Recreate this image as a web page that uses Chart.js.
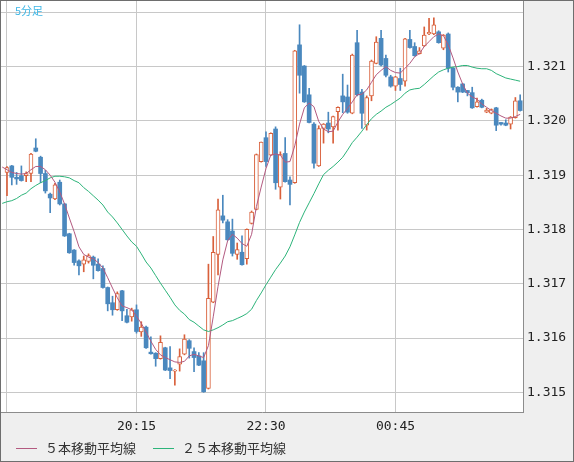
<!DOCTYPE html>
<html><head><meta charset="utf-8">
<script src="https://cdn.jsdelivr.net/npm/chart.js@4.4.1/dist/chart.umd.min.js"></script>
<style>
html,body{margin:0;padding:0;background:#efefef;}
#wrap{position:relative;width:574px;height:462px;overflow:hidden;}
canvas{position:absolute;left:0;top:0;}
.lg{position:absolute;font-size:13px;font-family:"Noto Sans CJK JP";color:#333;white-space:nowrap;line-height:16px;}
.ln{position:absolute;height:1px;}
#tf{position:absolute;left:15px;top:3px;font-size:11px;font-family:"Noto Sans CJK JP";color:#3cb6e6;line-height:14px;}
</style></head><body>
<div id="wrap">
<canvas id="c" width="574" height="462"></canvas>
<div id="tf">5分足</div>
<div class="ln" style="left:16px;top:448px;width:21px;background:#b35a80"></div>
<div class="lg" id="lg1" style="left:45px;top:440px"></div>
<div class="ln" style="left:153px;top:448px;width:21px;background:#2db47a"></div>
<div class="lg" id="lg2" style="left:182px;top:440px"></div>
</div>
<script>
// ---- data (5-minute candles, first candle 18:00) ----
const seriesNames = ['５本移動平均線', '２５本移動平均線'];
const chartTitle = '5分足';
const startHour = 18, startMin = 0, stepMin = 5;

const open = [1.31905,1.31917,1.31896,1.31899,1.31899,1.31903,1.31950,1.31933,1.31903,1.31865,
1.31856,1.31887,1.31847,1.31792,1.31762,1.31742,1.31736,1.31741,1.31749,1.31736,
1.31728,1.31693,1.31665,1.31652,1.31687,1.31641,1.31639,1.31652,1.31611,1.31620,
1.31574,1.31572,1.31562,1.31582,1.31545,1.31539,1.31552,1.31570,1.31595,1.31575,
1.31567,1.31558,1.31507,1.31666,1.31754,1.31825,1.31814,1.31797,1.31754,1.31758,
1.31746,1.31811,1.31837,1.31925,1.31969,1.31937,1.31985,1.31878,1.31940,1.31891,
1.31886,1.32140,1.32101,1.32048,1.31994,1.31917,1.31986,1.31996,1.31989,1.32017,
1.32046,1.32044,1.32014,1.32144,1.32053,1.31992,1.32046,1.32106,1.32152,1.32115,
1.32081,1.32064,1.32078,1.32073,1.32150,1.32137,1.32124,1.32138,1.32160,1.32160,
1.32164,1.32134,1.32160,1.32097,1.32062,1.32068,1.32056,1.32052,1.32026,1.32038,
1.32016,1.32014,1.32024,1.31997,1.31996,1.31994,1.32006,1.32037];

const high = [1.31916,1.31918,1.31905,1.31917,1.31906,1.31940,1.31967,1.31935,1.31909,1.31867,
1.31885,1.31891,1.31848,1.31793,1.31763,1.31744,1.31751,1.31755,1.31751,1.31746,
1.31733,1.31694,1.31677,1.31685,1.31688,1.31653,1.31655,1.31661,1.31630,1.31622,
1.31602,1.31573,1.31604,1.31583,1.31584,1.31542,1.31580,1.31606,1.31597,1.31582,
1.31573,1.31573,1.31736,1.31787,1.31856,1.31863,1.31818,1.31819,1.31775,1.31788,
1.31801,1.31834,1.31939,1.31961,1.31980,1.31978,1.31989,1.31943,1.31969,1.31897,
1.32130,1.32177,1.32102,1.32060,1.31997,1.31991,1.31995,1.32016,1.32009,1.32026,
1.32086,1.32066,1.32123,1.32167,1.32058,1.32046,1.32112,1.32155,1.32167,1.32121,
1.32084,1.32082,1.32097,1.32152,1.32167,1.32144,1.32135,1.32173,1.32189,1.32190,
1.32166,1.32159,1.32162,1.32098,1.32063,1.32069,1.32056,1.32062,1.32042,1.32040,
1.32023,1.32022,1.32025,1.31997,1.32002,1.32008,1.32043,1.32048];

const low = [1.31862,1.31882,1.31883,1.31889,1.31888,1.31888,1.31943,1.31886,1.31867,1.31831,
1.31855,1.31845,1.31787,1.31756,1.31734,1.31716,1.31722,1.31738,1.31709,1.31723,
1.31692,1.31650,1.31642,1.31651,1.31632,1.31628,1.31631,1.31609,1.31603,1.31581,
1.31570,1.31548,1.31561,1.31540,1.31525,1.31513,1.31539,1.31569,1.31563,1.31538,
1.31549,1.31500,1.31506,1.31665,1.31716,1.31812,1.31780,1.31751,1.31745,1.31734,
1.31736,1.31810,1.31836,1.31924,1.31916,1.31936,1.31874,1.31856,1.31887,1.31845,
1.31885,1.32051,1.32034,1.31996,1.31913,1.31916,1.31959,1.31978,1.31959,1.31983,
1.32015,1.32014,1.32013,1.32046,1.31986,1.31983,1.32037,1.32105,1.32101,1.32081,
1.32062,1.32056,1.32056,1.32064,1.32134,1.32119,1.32123,1.32137,1.32159,1.32159,
1.32143,1.32131,1.32090,1.32057,1.32035,1.32052,1.32046,1.32023,1.32025,1.32024,
1.32015,1.32013,1.31982,1.31992,1.31991,1.31985,1.32005,1.32018];

const close = [1.31914,1.31896,1.31893,1.31890,1.31903,1.31939,1.31944,1.31903,1.31871,1.31858,
1.31882,1.31847,1.31788,1.31757,1.31739,1.31733,1.31744,1.31752,1.31734,1.31724,
1.31693,1.31663,1.31652,1.31682,1.31650,1.31629,1.31652,1.31612,1.31620,1.31582,
1.31571,1.31562,1.31592,1.31541,1.31540,1.31541,1.31566,1.31598,1.31581,1.31564,
1.31550,1.31501,1.31673,1.31758,1.31836,1.31817,1.31781,1.31756,1.31763,1.31735,
1.31800,1.31832,1.31938,1.31961,1.31925,1.31977,1.31886,1.31938,1.31888,1.31883,
1.32129,1.32084,1.32035,1.31997,1.31922,1.31986,1.31994,1.31985,1.32008,1.32025,
1.32035,1.32016,1.32121,1.32048,1.32014,1.32043,1.32110,1.32145,1.32103,1.32084,
1.32064,1.32081,1.32067,1.32151,1.32135,1.32120,1.32129,1.32158,1.32163,1.32177,
1.32144,1.32158,1.32097,1.32062,1.32053,1.32053,1.32052,1.32024,1.32035,1.32025,
1.32020,1.32021,1.31992,1.31994,1.31992,1.32007,1.32037,1.32019];

// moving averages; first value belongs to the bar before 18:00 (17:55)
const ma5 = [1.31915,
1.31910,1.31905,1.31903,1.31902,1.31903,1.31910,1.31916,1.31916,1.31910,1.31900,
1.31887,1.31869,1.31847,1.31821,1.31796,1.31768,1.31754,1.31749,1.31746,1.31739,
1.31729,1.31711,1.31692,1.31674,1.31659,1.31656,1.31652,1.31640,1.31627,1.31611,
1.31594,1.31579,1.31569,1.31564,1.31560,1.31556,1.31555,1.31557,1.31567,1.31570,
1.31567,1.31564,1.31586,1.31639,1.31695,1.31744,1.31779,1.31791,1.31784,1.31774,
1.31769,1.31791,1.31842,1.31878,1.31912,1.31937,1.31939,1.31937,1.31924,1.31925,
1.31954,1.31994,1.32024,1.32033,1.32026,1.31999,1.31985,1.31980,1.31981,1.31998,
1.32012,1.32023,1.32035,1.32048,1.32049,1.32057,1.32071,1.32085,1.32093,1.32100,
1.32093,1.32089,1.32088,1.32097,1.32106,1.32118,1.32124,1.32137,1.32146,1.32155,
1.32160,1.32157,1.32140,1.32116,1.32090,1.32068,1.32051,1.32044,1.32040,1.32031,
1.32025,1.32019,1.32014,1.32009,1.32005,1.32005,1.32008,1.32012];

const ma25 = [1.31848,
1.31851,1.31853,1.31857,1.31863,1.31867,1.31875,1.31881,1.31886,1.31890,1.31895,
1.31898,1.31898,1.31897,1.31895,1.31890,1.31886,1.31877,1.31870,1.31862,1.31854,
1.31845,1.31832,1.31823,1.31812,1.31800,1.31788,1.31777,1.31769,1.31755,1.31740,
1.31729,1.31715,1.31701,1.31688,1.31675,1.31661,1.31651,1.31644,1.31634,1.31629,
1.31622,1.31615,1.31612,1.31615,1.31619,1.31624,1.31630,1.31632,1.31636,1.31640,
1.31645,1.31653,1.31669,1.31683,1.31698,1.31712,1.31726,1.31738,1.31751,1.31768,
1.31790,1.31813,1.31832,1.31849,1.31866,1.31884,1.31901,1.31909,1.31916,1.31924,
1.31933,1.31946,1.31960,1.31970,1.31981,1.31993,1.32004,1.32012,1.32018,1.32025,
1.32030,1.32036,1.32042,1.32051,1.32057,1.32059,1.32060,1.32067,1.32075,1.32083,
1.32090,1.32094,1.32097,1.32099,1.32100,1.32102,1.32102,1.32099,1.32097,1.32096,
1.32096,1.32093,1.32087,1.32083,1.32079,1.32077,1.32075,1.32073];

const xTickLabels = ['18:00', '20:15', '22:30', '00:45'];
const yTickLabels = ['1.315', '1.316', '1.317', '1.318', '1.319', '1.320', '1.321', '1.322'];

// ---- build ----
function fmt(n){return (n<10?'0':'')+n;}
const times = open.map((_, i) => {
  const m = startHour*60 + startMin + i*stepMin;
  return fmt(Math.floor(m/60)%24) + ':' + fmt(m%60);
});
const xTickPos = xTickLabels.map(l => times.indexOf(l));
const yTickVals = yTickLabels.map(Number);

document.getElementById('tf').textContent = chartTitle;
document.getElementById('lg1').textContent = seriesNames[0];
document.getElementById('lg2').textContent = seriesNames[1];

const UP = '#d9603b', DOWN = '#4a88be', C5 = '#b35a80', C25 = '#2db47a';
const idx = open.map((_, i) => i);
const wickData = idx.map(i => ({x: i, y: [low[i], high[i]]}));
const wickCol = idx.map(i => close[i] >= open[i] ? UP : DOWN);
const upData = idx.filter(i => close[i] >= open[i]).map(i => ({x: i, y: [open[i], close[i]]}));
const dnData = idx.filter(i => close[i] < open[i]).map(i => ({x: i, y: [close[i], open[i]]}));
const ma5Data = ma5.map((v, k) => ({x: k - 1, y: v}));
const ma25Data = ma25.map((v, k) => ({x: k - 1, y: v}));

const bgPlugin = {
  id: 'bg',
  beforeDraw(chart) {
    const {ctx, chartArea: a} = chart;
    ctx.save();
    ctx.fillStyle = '#efefef';
    ctx.fillRect(0, 0, chart.width, chart.height);
    ctx.fillStyle = '#ffffff';
    ctx.fillRect(a.left, a.top, a.right - a.left, a.bottom - a.top);
    ctx.restore();
  },
  afterDraw(chart) {
    const ctx = chart.ctx;
    ctx.save();
    ctx.strokeStyle = '#6e6e6e';
    ctx.lineWidth = 1;
    ctx.strokeRect(0.5, 0.5, chart.width - 1, chart.height - 1);
    ctx.restore();
  }
};

new Chart(document.getElementById('c'), {
  type: 'bar',
  data: {
    datasets: [
      {type: 'line', data: ma5Data, borderColor: C5, borderWidth: 1, pointRadius: 0, tension: 0, order: 0},
      {type: 'line', data: ma25Data, borderColor: C25, borderWidth: 1, pointRadius: 0, tension: 0, order: 0},
      {data: upData, backgroundColor: '#ffffff', borderColor: UP, borderWidth: 1, borderSkipped: false, barThickness: 4, grouped: false, order: 1},
      {data: dnData, backgroundColor: DOWN, borderColor: DOWN, borderWidth: 0, borderSkipped: false, barThickness: 4, grouped: false, order: 1},
      {data: wickData, backgroundColor: wickCol, borderWidth: 0, barThickness: 1, grouped: false, order: 2}
    ]
  },
  options: {
    responsive: false,
    devicePixelRatio: 1,
    animation: false,
    layout: {padding: {left: 1, top: 1, right: 0, bottom: 0}},
    plugins: {legend: {display: false}, tooltip: {enabled: false}},
    scales: {
      x: {
        type: 'linear', offset: false,
        min: -1.251, max: 107.59,
        grid: {color: '#c8c8c8', drawTicks: false, offset: false, lineWidth: 1},
        border: {display: true, color: '#8c8c8c', width: 1},
        afterBuildTicks: s => { s.ticks = xTickPos.map(v => ({value: v})); },
        afterFit: s => { s.height = 50; s.paddingLeft = 0; s.paddingRight = 0; },
        ticks: {
          autoSkip: false, maxRotation: 0, padding: 7, color: '#222',
          font: {family: 'DejaVu Sans Mono', size: 13},
          callback: (v) => { const k = xTickPos.indexOf(v); return k <= 0 ? '' : xTickLabels[k]; }
        }
      },
      y: {
        type: 'linear', position: 'right',
        min: 1.314637, max: 1.322208,
        grid: {color: '#c8c8c8', drawTicks: false, lineWidth: 1},
        border: {display: true, color: '#8c8c8c', width: 1},
        afterBuildTicks: s => { s.ticks = yTickVals.map(v => ({value: v})); },
        afterFit: s => { s.width = 51; s.paddingTop = 0; s.paddingBottom = 0; },
        ticks: {
          padding: 4, color: '#222',
          font: {family: 'DejaVu Sans Mono', size: 13},
          callback: (v) => { const k = yTickVals.indexOf(v); return (k < 0 || k === yTickVals.length - 1) ? '' : yTickLabels[k]; }
        }
      }
    }
  },
  plugins: [bgPlugin]
});
</script>
</body></html>
